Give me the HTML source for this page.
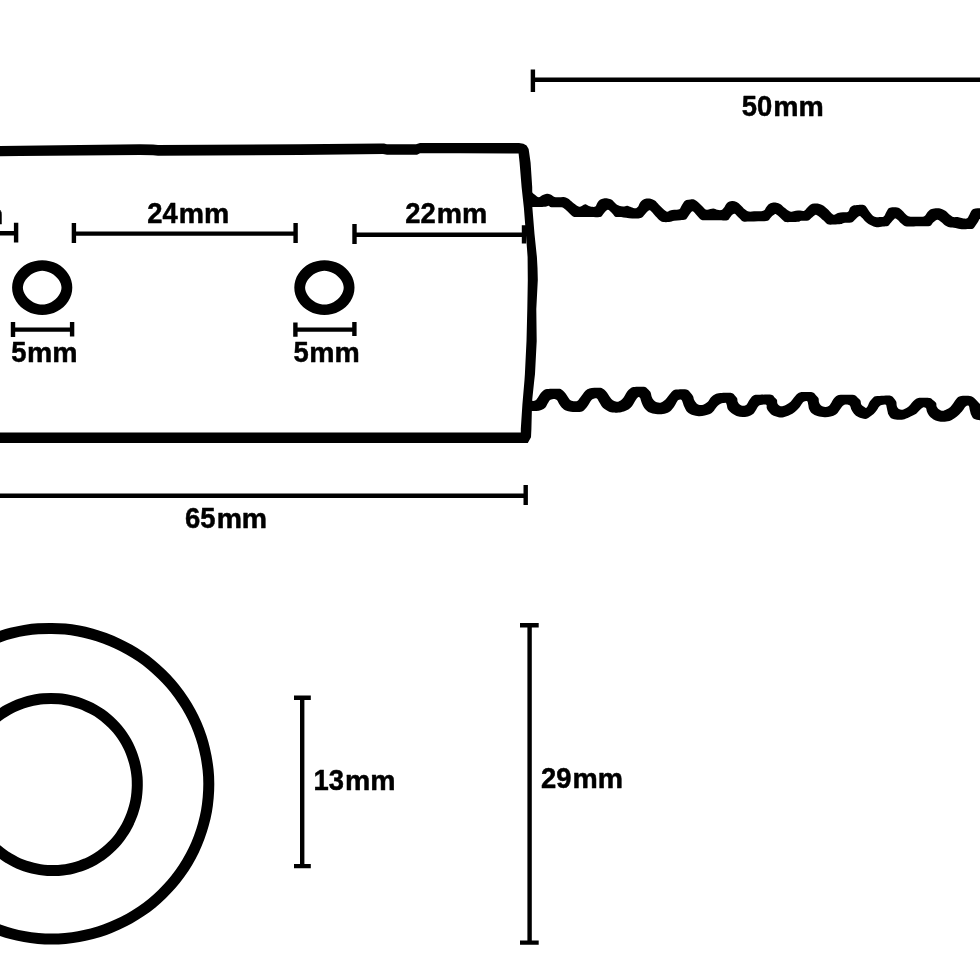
<!DOCTYPE html>
<html><head><meta charset="utf-8"><title>Dimensions</title>
<style>
html,body{margin:0;padding:0;background:#fff;}
body{width:980px;height:980px;overflow:hidden;}
svg{display:block;}
text{font-family:"Liberation Sans",sans-serif;font-weight:bold;font-size:28.4px;fill:#000;stroke:#000;stroke-width:0.5px;stroke-linejoin:round;}
.d{stroke:#000;stroke-width:4.4;fill:none;}
.b{stroke:#000;stroke-width:10.4;fill:none;stroke-linejoin:round;stroke-linecap:round;}
.w{stroke:#000;stroke-width:11.4;fill:none;stroke-linejoin:round;stroke-linecap:round;}
</style></head><body>
<svg width="980" height="980" viewBox="0 0 980 980" style="will-change:transform">
<rect width="980" height="980" fill="#fff"/>
<!-- body outline -->
<path fill="#000" d="M-10,146 L0,145.9 L20,145.7 L140,144.3 L153,144.4 L158,144.9 L300,144.3 L380,143.5 L384,143.6 L387,144.3 L416,144.3 L420,142.9 L460,142.9 L519,143.1 Q529,143.1 529.3,153.5 L530.6,162.7 L532.2,187 L532.4,208 L534.5,234 L536.9,257 L537.5,268 L537.8,280 L536.3,309 L536.7,341 L535,374 L534.3,380 L532.2,400 L531.8,413 L531.4,429 L531,437.3 L527.8,443 L270,443 L-10,443.1 L-10,432.6 L270,432.6 L520.8,432.5 L520.8,429 L522.4,404.5 L524.5,380 L524.9,374 L526.5,341 L527.3,309 L527.8,280 L527.6,257 L525.9,234 L523.9,208 L521.6,187 L519.6,162.7 L518.6,153.6 L460,153.3 L420,153.3 L417,154.7 L387,154.7 L383,154.1 L300,155.1 L158,155.7 L153,155.2 L140,155.1 L20,156.1 L0,156.3 L-10,156.4 Z"/>
<!-- threads -->
<path fill="#000" d="M531.6,191.9 C532.2,192.4 534.0,194.1 535.2,195.0 C536.4,195.9 537.5,197.3 538.8,197.3 C540.1,197.3 541.5,195.6 542.9,195.0 C544.2,194.4 545.6,193.8 546.9,193.7 C548.2,193.6 549.2,193.9 550.5,194.5 C551.8,195.1 553.2,196.5 554.6,197.0 C556.0,197.5 557.2,197.3 558.7,197.3 C560.2,197.3 562.3,196.8 563.8,197.0 C565.3,197.2 566.4,197.7 567.9,198.6 C569.4,199.5 571.3,201.4 573.0,202.7 C574.7,204.0 576.8,205.6 578.1,206.2 C579.4,206.8 579.7,206.8 580.6,206.5 C581.5,206.2 582.9,205.1 583.7,204.7 C584.6,204.3 584.9,204.0 585.7,204.2 C586.5,204.4 587.4,205.3 588.3,205.7 C589.2,206.1 590.1,206.6 591.3,206.7 C592.5,206.8 594.4,207.2 595.4,206.5 C596.4,205.8 596.6,203.8 597.4,202.7 C598.2,201.6 599.0,200.5 600.0,199.8 C601.0,199.1 602.3,198.6 603.6,198.4 C604.9,198.2 606.4,198.2 607.7,198.4 C609.1,198.6 610.4,198.9 611.7,199.8 C613.1,200.7 614.6,202.7 615.8,203.7 C617.0,204.7 617.9,205.2 619.1,205.7 C620.3,206.2 621.9,206.5 623.2,206.5 C624.6,206.5 625.9,205.6 627.2,205.7 C628.6,205.8 629.9,206.8 631.3,207.2 C632.7,207.6 634.3,208.4 635.4,208.3 C636.5,208.2 637.2,207.6 638.0,206.7 C638.8,205.8 639.2,203.8 640.0,202.7 C640.8,201.6 641.5,200.8 642.6,200.1 C643.7,199.4 645.2,198.8 646.6,198.6 C648.0,198.4 649.3,198.5 650.7,198.8 C652.1,199.1 653.4,199.6 654.8,200.6 C656.2,201.6 657.5,203.3 658.9,204.7 C660.3,206.1 661.6,207.6 663.0,208.8 C664.4,210.0 665.8,211.5 667.0,211.8 C668.2,212.1 668.9,210.9 670.1,210.6 C671.3,210.3 672.7,210.0 674.2,209.8 C675.7,209.6 678.1,209.9 679.3,209.3 C680.5,208.7 680.6,207.3 681.3,206.2 C682.0,205.1 682.5,203.7 683.4,202.7 C684.2,201.7 685.2,200.6 686.4,200.1 C687.6,199.6 689.1,199.4 690.5,199.4 C691.9,199.4 693.2,199.2 694.6,199.8 C696.0,200.4 697.3,201.5 698.7,202.7 C700.1,203.8 701.4,205.5 702.8,206.7 C704.1,207.9 705.1,209.5 706.8,209.8 C708.5,210.1 711.5,208.6 713.2,208.6 C714.9,208.6 715.9,209.6 717.2,209.8 C718.6,210.0 720.2,210.3 721.3,210.0 C722.4,209.7 723.0,208.9 723.9,207.8 C724.8,206.8 725.5,204.7 726.4,203.7 C727.3,202.7 728.5,202.0 729.5,201.6 C730.5,201.2 731.4,201.0 732.6,201.1 C733.8,201.2 735.2,201.4 736.6,202.1 C738.0,202.8 739.3,204.0 740.7,205.2 C742.1,206.4 743.4,208.2 744.8,209.3 C746.2,210.4 747.4,211.3 748.9,211.6 C750.4,211.9 752.1,211.4 754.0,211.3 C755.9,211.2 758.4,211.5 760.1,211.3 C761.8,211.1 763.2,211.0 764.2,210.3 C765.2,209.6 765.4,208.2 766.2,207.2 C767.0,206.2 767.8,204.9 768.8,204.2 C769.8,203.4 771.0,202.9 772.3,202.7 C773.6,202.4 775.0,202.4 776.4,202.7 C777.8,202.9 779.1,203.3 780.5,204.2 C781.9,205.0 783.2,206.7 784.6,207.8 C786.0,208.9 787.5,210.1 788.7,210.8 C789.9,211.5 790.5,211.8 791.7,211.8 C792.9,211.8 794.4,211.0 795.8,210.8 C797.2,210.6 798.7,210.6 800.1,210.6 C801.5,210.6 803.0,211.3 804.2,210.8 C805.4,210.3 806.2,208.8 807.2,207.8 C808.2,206.8 809.1,205.4 810.3,204.7 C811.5,204.0 812.9,203.6 814.4,203.5 C815.9,203.4 818.0,203.5 819.5,203.9 C821.0,204.3 822.2,204.8 823.6,205.7 C825.0,206.6 826.4,208.0 827.7,209.3 C829.1,210.6 830.6,212.5 831.7,213.4 C832.8,214.3 833.3,214.8 834.3,214.7 C835.3,214.6 836.4,213.3 837.9,212.9 C839.4,212.5 841.3,212.5 843.0,212.3 C844.7,212.1 846.9,212.6 848.1,211.8 C849.3,211.1 849.2,208.9 850.1,207.8 C851.0,206.8 851.8,206.0 853.2,205.5 C854.6,205.0 856.4,205.0 858.3,204.9 C860.2,204.8 863.0,204.7 864.4,205.2 C865.8,205.7 866.0,206.7 866.9,207.8 C867.8,208.9 868.5,210.5 869.5,211.8 C870.5,213.1 871.6,214.5 872.6,215.4 C873.6,216.3 874.4,216.8 875.6,217.1 C876.8,217.3 878.3,217.0 879.7,216.9 C881.1,216.8 882.8,217.1 883.8,216.4 C884.8,215.7 885.1,214.1 885.8,212.9 C886.5,211.7 887.3,210.1 887.9,209.3 C888.5,208.5 888.3,208.3 889.2,208.0 C890.1,207.7 891.8,207.2 893.3,207.2 C894.8,207.2 896.9,207.2 898.4,207.8 C899.9,208.4 901.0,209.6 902.4,210.8 C903.8,212.0 905.1,213.9 906.5,214.9 C907.9,215.9 908.9,216.4 910.6,216.7 C912.3,217.0 914.5,216.8 916.7,216.7 C918.9,216.6 922.2,217.0 923.9,216.4 C925.6,215.8 925.9,214.0 926.9,212.9 C927.9,211.8 928.8,210.5 930.0,209.8 C931.2,209.1 932.4,208.8 934.1,208.6 C935.8,208.4 938.3,208.2 940.2,208.6 C942.1,209.0 943.8,209.8 945.3,210.8 C946.8,211.8 948.0,213.4 949.4,214.4 C950.8,215.4 952.1,216.7 953.5,217.1 C954.9,217.5 956.2,216.9 957.6,217.1 C959.0,217.2 960.1,217.8 961.6,218.0 C963.1,218.2 965.4,219.0 966.7,218.5 C968.0,218.0 968.4,216.3 969.3,214.9 C970.1,213.5 970.8,211.4 971.8,210.3 C972.8,209.2 974.0,208.9 975.4,208.6 C976.8,208.3 978.2,208.4 980.0,208.3 C981.8,208.2 985.0,208.2 986.0,208.2 L986.0,219.0 C985.0,219.0 981.2,218.7 980.0,219.0 C978.8,219.3 979.2,220.0 978.5,221.0 C977.8,222.0 976.8,223.8 975.9,225.1 C975.0,226.4 974.2,228.0 972.9,228.7 C971.5,229.3 969.7,228.9 967.8,229.0 C965.9,229.1 963.6,229.4 961.6,229.2 C959.6,229.0 957.5,228.3 955.5,228.0 C953.5,227.7 951.1,227.7 949.4,227.3 C947.7,226.9 946.7,226.5 945.3,225.6 C943.9,224.7 942.5,223.0 941.2,222.0 C939.9,221.0 938.6,220.1 937.7,219.8 C936.8,219.6 936.4,220.0 935.6,220.5 C934.8,221.0 934.0,221.7 933.1,222.6 C932.2,223.5 931.7,225.3 930.0,225.9 C928.3,226.5 925.6,226.2 922.9,226.3 C920.2,226.4 916.6,226.4 913.7,226.4 C910.8,226.4 907.5,226.8 905.5,226.3 C903.5,225.8 902.7,224.7 901.4,223.6 C900.1,222.5 898.9,220.8 897.9,220.0 C896.9,219.2 896.1,218.5 895.3,218.5 C894.5,218.5 894.1,219.2 893.3,220.0 C892.4,220.8 891.1,222.6 890.2,223.6 C889.3,224.6 889.1,225.6 887.9,226.1 C886.7,226.6 884.7,226.4 882.8,226.6 C880.9,226.8 878.3,227.4 876.6,227.3 C874.9,227.2 874.0,226.6 872.6,226.1 C871.2,225.6 869.7,224.9 868.5,224.1 C867.3,223.3 866.4,222.5 865.4,221.5 C864.4,220.5 863.2,218.9 862.3,218.0 C861.4,217.1 860.6,216.0 859.8,215.9 C858.9,215.8 858.1,216.6 857.2,217.4 C856.3,218.2 855.2,219.6 854.2,220.5 C853.2,221.4 852.8,222.2 851.1,222.6 C849.4,223.0 845.7,222.7 844.0,222.9 C842.3,223.2 842.6,223.8 840.9,224.1 C839.2,224.4 836.0,224.6 833.8,224.6 C831.6,224.6 829.4,225.0 827.7,224.3 C826.0,223.6 825.0,221.7 823.6,220.5 C822.2,219.3 820.7,217.8 819.5,216.9 C818.3,216.0 817.2,215.2 816.4,214.9 C815.5,214.7 815.2,214.9 814.4,215.4 C813.5,215.9 812.3,217.2 811.3,218.0 C810.3,218.8 810.0,220.0 808.3,220.5 C806.6,221.0 802.7,220.6 801.1,220.8 C799.5,221.0 800.5,221.6 798.9,221.8 C797.3,222.0 793.9,222.0 791.7,222.0 C789.5,222.0 787.1,222.3 785.6,222.0 C784.1,221.7 783.6,220.8 782.6,220.0 C781.6,219.2 780.5,217.8 779.5,216.9 C778.5,216.0 777.2,214.8 776.4,214.4 C775.5,214.0 775.2,214.0 774.4,214.4 C773.5,214.8 772.2,216.0 771.3,216.9 C770.4,217.8 769.6,219.3 768.8,220.0 C767.9,220.7 768.0,220.8 766.2,221.0 C764.4,221.2 760.8,221.2 758.1,221.3 C755.4,221.4 752.4,221.5 749.9,221.5 C747.4,221.5 745.0,222.0 743.3,221.5 C741.6,221.0 740.8,219.5 739.7,218.5 C738.6,217.5 737.5,216.2 736.6,215.4 C735.8,214.6 735.3,213.9 734.6,213.7 C733.9,213.5 733.4,213.8 732.6,214.4 C731.8,215.0 730.9,216.4 730.0,217.4 C729.1,218.4 729.4,219.7 727.4,220.2 C725.4,220.7 721.0,220.2 718.3,220.2 C715.6,220.2 713.0,220.3 711.1,220.3 C709.2,220.3 708.4,220.2 706.8,220.2 C705.2,220.1 703.1,220.5 701.7,220.0 C700.4,219.5 699.7,218.4 698.7,217.4 C697.7,216.4 696.6,214.9 695.6,213.9 C694.6,212.9 693.5,211.5 692.6,211.3 C691.8,211.1 691.4,211.9 690.5,212.9 C689.6,213.9 688.2,216.3 687.4,217.4 C686.5,218.5 686.6,219.0 685.4,219.5 C684.2,220.0 682.2,220.0 680.3,220.2 C678.4,220.4 676.1,220.5 674.2,220.8 C672.3,221.1 671.0,221.8 669.1,222.0 C667.2,222.2 664.5,222.2 663.0,222.0 C661.5,221.8 661.1,221.4 659.9,220.5 C658.7,219.6 657.2,217.8 655.8,216.4 C654.4,215.0 652.8,212.8 651.7,211.8 C650.6,210.8 650.2,210.0 649.2,210.3 C648.2,210.6 646.7,212.3 645.6,213.4 C644.5,214.5 643.6,216.1 642.6,216.9 C641.6,217.7 641.2,217.9 639.5,218.2 C637.8,218.5 634.5,218.6 632.3,218.5 C630.1,218.4 628.1,218.1 626.2,217.8 C624.3,217.5 622.8,217.1 621.1,216.9 C619.4,216.8 617.2,217.4 615.8,216.9 C614.4,216.4 613.8,214.9 612.8,213.9 C611.8,212.9 610.6,211.5 609.7,210.8 C608.9,210.1 608.4,209.7 607.7,209.8 C607.0,209.9 606.5,210.5 605.6,211.3 C604.8,212.2 603.5,214.0 602.6,214.9 C601.7,215.8 601.9,216.5 600.0,216.9 C598.1,217.3 593.8,217.1 591.3,217.1 C588.8,217.1 587.4,217.1 585.2,217.1 C583.0,217.1 580.1,217.0 578.1,216.9 C576.1,216.8 574.7,217.2 573.0,216.4 C571.3,215.6 569.4,213.2 567.9,211.8 C566.4,210.5 565.0,209.1 563.8,208.3 C562.6,207.5 562.8,207.4 560.7,207.2 C558.7,207.0 553.5,207.4 551.5,207.2 C549.5,206.9 549.5,205.8 548.5,205.7 C547.5,205.6 547.1,206.5 545.4,206.7 C543.7,206.9 540.6,206.9 538.3,206.9 C536.0,206.9 532.7,206.9 531.6,206.9 Z"/>
<path fill="#000" d="M531.1,400.8 C531.8,400.8 534.1,401.1 535.2,400.6 C536.3,400.1 536.9,399.0 537.8,397.8 C538.6,396.6 539.4,394.9 540.3,393.7 C541.2,392.5 542.3,391.4 543.4,390.6 C544.5,389.8 545.2,389.4 546.9,389.1 C548.6,388.8 551.5,388.9 553.6,388.8 C555.7,388.8 558.2,388.5 559.7,388.8 C561.2,389.1 561.8,389.8 562.8,390.6 C563.8,391.4 564.9,392.5 565.8,393.7 C566.7,394.9 567.5,396.6 568.4,397.8 C569.2,399.0 569.9,400.0 570.9,400.6 C571.9,401.2 573.4,401.3 574.5,401.3 C575.6,401.3 576.7,401.4 577.6,400.8 C578.5,400.2 579.2,398.9 580.1,397.8 C581.0,396.7 581.8,395.4 582.7,394.2 C583.6,393.0 584.6,391.5 585.7,390.6 C586.8,389.7 587.8,389.1 589.3,388.6 C590.8,388.1 592.5,387.9 594.4,387.8 C596.3,387.7 598.9,387.5 600.5,387.8 C602.1,388.1 603.0,388.8 604.1,389.6 C605.2,390.4 606.2,391.5 607.1,392.7 C608.0,393.9 608.8,395.4 609.7,396.7 C610.7,398.0 611.6,399.4 612.8,400.3 C614.0,401.2 615.8,401.6 616.8,401.8 C617.8,402.0 618.2,401.7 619.1,401.3 C620.0,400.9 621.2,400.2 622.1,399.3 C623.0,398.4 623.9,397.0 624.7,395.7 C625.6,394.4 626.3,392.8 627.2,391.6 C628.1,390.4 629.3,389.4 630.3,388.6 C631.3,387.8 631.9,387.3 633.4,387.0 C634.9,386.7 637.5,386.7 639.5,386.7 C641.5,386.7 643.6,386.4 645.1,387.0 C646.6,387.6 647.8,389.2 648.7,390.1 C649.6,391.1 650.2,391.6 650.7,392.7 C651.2,393.8 651.2,395.4 651.7,396.7 C652.2,398.0 652.9,399.4 653.8,400.3 C654.6,401.2 655.7,401.9 656.8,402.3 C657.9,402.7 659.2,402.9 660.4,402.7 C661.6,402.4 662.9,401.6 664.0,400.8 C665.1,400.0 666.0,399.0 667.0,397.8 C668.0,396.6 669.1,394.9 670.1,393.7 C671.1,392.5 672.0,391.1 673.2,390.4 C674.4,389.7 675.0,389.7 677.2,389.6 C679.4,389.5 684.2,389.1 686.4,389.6 C688.6,390.1 689.4,391.6 690.5,392.7 C691.6,393.8 692.5,395.0 693.1,396.2 C693.7,397.4 693.5,398.6 694.1,399.8 C694.7,401.0 695.7,402.5 696.6,403.4 C697.5,404.2 698.5,404.7 699.7,404.9 C700.9,405.1 702.4,404.9 703.8,404.4 C705.2,403.9 706.7,403.0 707.9,401.8 C709.1,400.6 709.9,398.5 711.1,397.2 C712.3,395.9 713.7,394.9 715.2,394.2 C716.7,393.5 717.6,393.1 720.3,392.9 C723.0,392.7 729.1,392.5 731.5,392.9 C733.9,393.3 733.7,394.3 734.6,395.2 C735.5,396.1 736.6,397.2 737.1,398.3 C737.6,399.4 737.3,400.8 737.7,401.8 C738.1,402.8 738.8,403.8 739.7,404.4 C740.6,405.0 742.1,405.7 743.3,405.7 C744.5,405.7 745.9,405.2 746.8,404.4 C747.7,403.6 748.1,402.0 748.9,400.8 C749.7,399.6 750.5,398.2 751.4,397.2 C752.3,396.2 753.0,395.3 754.5,394.9 C756.0,394.5 757.3,394.7 760.1,394.7 C762.9,394.7 768.9,394.3 771.3,394.7 C773.7,395.1 773.5,396.3 774.4,397.2 C775.3,398.1 776.4,398.8 776.9,399.8 C777.4,400.8 776.9,402.4 777.4,403.4 C777.9,404.4 779.0,405.5 780.0,405.9 C781.0,406.3 782.0,406.1 783.1,405.9 C784.2,405.6 785.3,405.1 786.6,404.4 C787.9,403.7 789.5,402.9 790.7,401.8 C791.9,400.7 792.8,399.1 793.8,397.8 C794.8,396.5 795.8,395.1 796.8,394.2 C797.8,393.3 798.5,392.8 799.9,392.4 C801.3,392.0 803.0,392.1 805.2,392.1 C807.4,392.1 811.1,391.9 812.9,392.4 C814.7,392.9 815.0,394.2 815.9,395.2 C816.8,396.2 818.0,397.1 818.5,398.3 C819.0,399.5 818.6,401.1 819.0,402.3 C819.4,403.5 820.0,404.6 821.0,405.4 C822.0,406.2 823.8,406.8 825.1,406.9 C826.4,407.0 827.7,406.6 828.7,405.9 C829.7,405.2 830.4,404.0 831.2,402.9 C832.0,401.8 832.5,400.4 833.3,399.3 C834.1,398.2 834.9,397.2 835.8,396.5 C836.7,395.8 837.2,395.2 838.9,394.9 C840.6,394.6 843.5,394.7 846.0,394.7 C848.5,394.7 852.3,394.5 854.2,394.9 C856.1,395.3 856.2,396.3 857.2,397.2 C858.2,398.1 859.6,399.1 860.3,400.3 C861.0,401.5 860.6,403.3 861.3,404.4 C862.0,405.5 863.5,406.3 864.4,406.9 C865.2,407.5 865.8,408.1 866.4,407.8 C867.0,407.6 867.4,406.5 868.0,405.4 C868.6,404.3 869.2,402.5 870.0,401.3 C870.8,400.1 871.7,399.2 872.6,398.3 C873.5,397.4 873.7,396.6 875.6,396.2 C877.5,395.8 881.2,395.8 883.8,395.7 C886.4,395.6 889.5,395.4 891.2,395.9 C893.0,396.4 893.4,397.8 894.3,398.8 C895.1,399.8 895.9,400.6 896.3,401.8 C896.7,403.0 896.4,404.7 896.8,405.9 C897.2,407.1 898.0,408.4 898.9,409.0 C899.8,409.6 901.1,410.0 902.4,409.8 C903.7,409.6 905.2,408.8 906.5,408.0 C907.8,407.2 909.0,406.0 910.1,404.9 C911.2,403.8 912.1,402.4 913.2,401.3 C914.3,400.2 915.4,399.2 916.7,398.6 C918.0,398.0 918.6,397.9 920.8,397.8 C923.0,397.7 928.0,397.6 930.0,398.0 C932.0,398.4 932.1,399.5 933.1,400.3 C934.1,401.1 935.5,401.9 936.1,402.9 C936.7,403.9 936.1,405.3 936.6,406.4 C937.1,407.5 938.2,408.8 939.2,409.5 C940.2,410.2 941.6,410.8 942.8,410.8 C944.0,410.8 945.0,410.1 946.3,409.5 C947.6,408.9 949.2,408.0 950.4,406.9 C951.6,405.8 952.5,404.2 953.5,402.9 C954.5,401.5 955.4,399.9 956.5,398.8 C957.6,397.7 957.9,396.7 960.1,396.2 C962.3,395.7 967.5,395.6 969.8,395.9 C972.1,396.2 972.7,397.0 973.9,397.8 C975.1,398.6 975.9,399.8 976.9,400.8 C977.9,401.8 978.5,402.9 980.0,403.9 C981.5,404.9 985.0,406.5 986.0,407.0 L986.0,420.3 C985.0,420.3 982.0,420.5 980.0,420.2 C978.0,419.9 975.4,419.5 973.9,418.7 C972.4,417.9 972.0,416.6 971.3,415.1 C970.6,413.7 970.2,411.5 969.8,410.0 C969.4,408.5 969.5,406.5 968.8,405.9 C968.1,405.3 966.7,405.6 965.7,406.4 C964.7,407.2 963.9,409.1 962.7,410.5 C961.5,411.9 960.0,413.8 958.6,415.1 C957.2,416.4 956.0,417.2 954.5,418.2 C953.0,419.2 951.3,420.4 949.4,421.0 C947.5,421.6 945.2,421.7 943.3,421.7 C941.4,421.7 939.9,421.6 938.2,421.2 C936.5,420.8 934.6,420.1 933.1,419.2 C931.6,418.3 930.0,416.9 929.0,415.6 C928.0,414.3 927.4,412.8 926.9,411.5 C926.4,410.2 926.6,408.7 925.9,408.0 C925.2,407.3 923.9,407.1 922.9,407.4 C921.9,407.7 921.0,408.9 919.8,410.0 C918.6,411.1 917.2,413.0 915.7,414.1 C914.2,415.2 912.5,415.8 910.6,416.6 C908.7,417.5 906.7,418.7 904.5,419.2 C902.3,419.7 899.5,419.9 897.3,419.7 C895.1,419.5 892.7,419.1 891.2,418.2 C889.7,417.3 888.8,415.0 888.2,414.1 C887.7,413.2 888.1,414.1 887.9,413.1 C887.7,412.1 887.1,409.4 886.8,408.0 C886.4,406.6 886.6,405.2 885.8,404.7 C884.9,404.2 882.8,404.6 881.7,404.9 C880.6,405.2 880.1,405.5 879.2,406.4 C878.4,407.3 877.5,409.2 876.6,410.5 C875.7,411.8 874.8,413.0 873.6,414.1 C872.4,415.2 870.9,416.3 869.5,417.1 C868.1,417.9 867.3,419.0 865.4,419.0 C863.5,419.0 860.2,417.9 858.3,417.1 C856.4,416.3 855.3,415.3 854.2,414.1 C853.1,412.9 852.3,411.4 851.6,410.0 C850.9,408.6 850.7,406.8 850.1,405.9 C849.5,405.0 849.1,404.9 848.1,404.7 C847.1,404.5 845.1,404.4 844.0,404.9 C842.9,405.3 842.2,406.4 841.4,407.4 C840.5,408.4 839.8,409.8 838.9,411.0 C838.0,412.2 837.2,413.7 835.8,414.6 C834.4,415.5 832.6,416.2 830.7,416.6 C828.8,417.1 826.8,417.4 824.6,417.3 C822.4,417.2 819.5,416.7 817.4,416.1 C815.3,415.5 813.6,414.7 812.3,413.6 C810.9,412.5 810.0,410.9 809.3,409.5 C808.6,408.1 808.6,406.3 808.3,404.9 C807.9,403.5 808.0,401.8 807.2,401.3 C806.4,400.8 804.7,401.2 803.7,401.8 C802.7,402.4 801.9,403.9 801.1,404.9 C800.3,405.9 800.0,406.8 798.9,408.0 C797.8,409.2 796.3,410.8 794.8,412.0 C793.3,413.2 791.6,414.2 789.7,415.1 C787.8,416.0 785.5,416.9 783.6,417.3 C781.7,417.7 780.4,417.7 778.5,417.3 C776.6,416.9 774.0,416.2 772.3,415.1 C770.6,414.1 769.2,412.2 768.3,411.0 C767.4,409.8 767.1,409.1 766.7,408.0 C766.4,406.9 767.2,405.2 766.2,404.7 C765.2,404.2 762.0,404.6 760.6,404.9 C759.2,405.2 758.9,405.5 758.1,406.4 C757.3,407.2 756.9,408.7 756.0,410.0 C755.1,411.3 754.4,413.0 753.0,414.1 C751.6,415.2 749.6,416.1 747.9,416.6 C746.2,417.1 744.7,417.0 742.8,416.9 C740.9,416.8 738.5,416.5 736.6,415.9 C734.7,415.3 732.9,414.2 731.5,413.1 C730.1,412.0 728.8,410.8 728.0,409.5 C727.2,408.2 727.2,406.5 726.9,405.4 C726.5,404.3 726.6,403.3 725.9,402.9 C725.2,402.5 724.0,402.9 722.9,403.1 C721.8,403.4 720.4,403.7 719.3,404.4 C718.2,405.1 717.2,406.2 716.2,407.4 C715.2,408.6 714.2,410.4 713.2,411.5 C712.2,412.6 711.3,413.4 709.9,414.1 C708.5,414.8 706.7,415.2 704.8,415.6 C702.9,416.0 700.7,416.4 698.7,416.3 C696.7,416.2 694.5,415.8 692.6,415.1 C690.7,414.4 688.8,413.4 687.4,412.0 C686.0,410.6 685.1,408.4 684.4,406.9 C683.6,405.4 683.4,404.1 682.9,402.9 C682.4,401.7 682.1,400.3 681.3,399.8 C680.5,399.3 679.1,399.5 678.3,400.0 C677.4,400.5 677.1,401.6 676.2,402.9 C675.4,404.2 674.4,406.5 673.2,408.0 C672.0,409.5 670.8,411.0 669.1,412.0 C667.4,413.0 665.2,413.8 663.0,414.1 C660.8,414.5 658.0,414.4 655.8,414.1 C653.6,413.9 651.5,413.5 649.7,412.6 C647.9,411.8 646.3,410.3 645.1,409.0 C643.9,407.7 643.3,406.3 642.6,404.9 C641.9,403.5 641.4,402.0 641.0,400.8 C640.6,399.6 640.5,398.4 640.0,397.8 C639.5,397.2 638.7,396.9 638.0,397.2 C637.3,397.5 636.7,398.7 635.9,399.8 C635.1,400.9 634.3,402.5 633.4,403.9 C632.5,405.3 631.5,406.9 630.3,408.0 C629.1,409.1 627.7,409.8 626.2,410.5 C624.7,411.2 623.2,411.8 621.1,412.2 C619.0,412.6 615.9,412.7 613.8,412.6 C611.7,412.5 610.2,412.1 608.7,411.5 C607.2,410.9 605.8,409.9 604.6,409.0 C603.4,408.1 602.4,407.1 601.5,405.9 C600.6,404.7 599.8,403.0 599.0,401.8 C598.2,400.6 597.7,399.1 596.9,398.6 C596.1,398.1 595.3,398.3 594.4,398.6 C593.5,398.9 592.3,399.2 591.3,400.3 C590.3,401.4 589.3,403.4 588.3,404.9 C587.3,406.3 586.2,407.9 585.2,409.0 C584.2,410.1 583.5,411.0 582.1,411.5 C580.7,412.0 578.9,411.9 577.0,412.0 C575.1,412.1 572.8,412.1 570.9,411.8 C569.0,411.6 567.3,411.2 565.8,410.5 C564.3,409.8 562.8,408.5 561.7,407.4 C560.6,406.3 560.0,405.1 559.2,403.9 C558.4,402.7 557.9,401.1 557.1,400.3 C556.3,399.5 555.7,399.1 554.6,399.0 C553.5,398.9 551.6,399.2 550.5,399.8 C549.4,400.4 548.9,401.6 548.0,402.9 C547.1,404.2 546.5,406.2 545.4,407.4 C544.3,408.6 542.8,409.4 541.3,410.0 C539.8,410.6 537.9,410.8 536.2,411.0 C534.5,411.2 532.0,411.0 531.1,411.0 Z"/>
<!-- holes -->
<path fill="#000" fill-rule="evenodd" d="M72.30,287.60 L72.04,291.18 L71.27,294.69 L70.01,298.09 L68.27,301.30 L66.08,304.28 L63.48,306.97 L60.52,309.34 L57.25,311.33 L53.72,312.91 L49.99,314.07 L46.13,314.77 L42.20,315.00 L38.27,314.77 L34.41,314.07 L30.68,312.91 L27.15,311.33 L23.88,309.34 L20.92,306.97 L18.32,304.28 L16.13,301.30 L14.39,298.09 L13.13,294.69 L12.36,291.18 L12.10,287.60 L12.36,284.02 L13.13,280.51 L14.39,277.11 L16.13,273.90 L18.32,270.92 L20.92,268.23 L23.88,265.86 L27.15,263.87 L30.68,262.29 L34.41,261.13 L38.27,260.43 L42.20,260.20 L46.13,260.43 L49.99,261.13 L53.72,262.29 L57.25,263.87 L60.52,265.86 L63.48,268.23 L66.08,270.92 L68.27,273.90 L70.01,277.11 L71.27,280.51 L72.04,284.02 Z M61.50,287.70 L61.32,289.50 L60.78,291.53 L59.89,293.58 L58.68,295.59 L57.17,297.50 L55.39,299.25 L53.39,300.80 L51.21,302.13 L48.92,303.19 L46.57,303.97 L44.26,304.44 L42.20,304.60 L40.14,304.44 L37.83,303.97 L35.48,303.19 L33.19,302.13 L31.01,300.80 L29.01,299.25 L27.23,297.50 L25.72,295.59 L24.51,293.58 L23.62,291.53 L23.08,289.50 L22.90,287.70 L23.08,285.90 L23.62,283.87 L24.51,281.82 L25.72,279.81 L27.23,277.90 L29.01,276.15 L31.01,274.60 L33.19,273.27 L35.48,272.21 L37.83,271.43 L40.14,270.96 L42.20,270.80 L44.26,270.96 L46.57,271.43 L48.92,272.21 L51.21,273.27 L53.39,274.60 L55.39,276.15 L57.17,277.90 L58.68,279.81 L59.89,281.82 L60.78,283.87 L61.32,285.90 Z"/>
<path fill="#000" fill-rule="evenodd" d="M354.50,287.60 L354.24,291.18 L353.47,294.69 L352.21,298.09 L350.47,301.30 L348.28,304.28 L345.68,306.97 L342.72,309.34 L339.45,311.33 L335.92,312.91 L332.19,314.07 L328.33,314.77 L324.40,315.00 L320.47,314.77 L316.61,314.07 L312.88,312.91 L309.35,311.33 L306.08,309.34 L303.12,306.97 L300.52,304.28 L298.33,301.30 L296.59,298.09 L295.33,294.69 L294.56,291.18 L294.30,287.60 L294.56,284.02 L295.33,280.51 L296.59,277.11 L298.33,273.90 L300.52,270.92 L303.12,268.23 L306.08,265.86 L309.35,263.87 L312.88,262.29 L316.61,261.13 L320.47,260.43 L324.40,260.20 L328.33,260.43 L332.19,261.13 L335.92,262.29 L339.45,263.87 L342.72,265.86 L345.68,268.23 L348.28,270.92 L350.47,273.90 L352.21,277.11 L353.47,280.51 L354.24,284.02 Z M343.70,287.70 L343.52,289.50 L342.98,291.53 L342.09,293.58 L340.88,295.59 L339.37,297.50 L337.59,299.25 L335.59,300.80 L333.41,302.13 L331.12,303.19 L328.77,303.97 L326.46,304.44 L324.40,304.60 L322.34,304.44 L320.03,303.97 L317.68,303.19 L315.39,302.13 L313.21,300.80 L311.21,299.25 L309.43,297.50 L307.92,295.59 L306.71,293.58 L305.82,291.53 L305.28,289.50 L305.10,287.70 L305.28,285.90 L305.82,283.87 L306.71,281.82 L307.92,279.81 L309.43,277.90 L311.21,276.15 L313.21,274.60 L315.39,273.27 L317.68,272.21 L320.03,271.43 L322.34,270.96 L324.40,270.80 L326.46,270.96 L328.77,271.43 L331.12,272.21 L333.41,273.27 L335.59,274.60 L337.59,276.15 L339.37,277.90 L340.88,279.81 L342.09,281.82 L342.98,283.87 L343.52,285.90 Z"/>
<!-- dimension lines -->
<path class="d" d="M-5,233.3 H16 M16.1,222.8 V242.4"/>
<path class="d" d="M73.9,233.6 H295.6 M73.9,223 V243 M295.6,223 V243"/>
<path class="d" d="M354.5,234.7 H524 M354.5,224 V244 M524,225.3 V243.6"/>
<path class="d" d="M13,329.6 H72.1 M13,322 V337 M72.1,322 V336.5"/>
<path class="d" d="M295.4,329.6 H354.4 M295.4,322.4 V336.7 M354.4,322 V336"/>
<path class="d" d="M532.9,79.8 H990 M532.9,69.4 V91.9"/>
<path class="d" d="M-5,495.7 H525.7 M525.7,485 V505"/>
<path class="d" d="M302.2,697.8 V866.1 M294,697.8 H310.8 M294,866.1 H310.8"/>
<path class="d" d="M529.6,625.3 V942.6 M520,625.3 H538.7 M520,942.6 H538.7"/>
<!-- end view -->
<path d="M208.8,783.7 C208.8,788.3 208.6,792.9 208.2,797.4 C207.8,801.9 207.3,806.5 206.5,811.0 C205.7,815.5 204.6,820.0 203.4,824.4 C202.2,828.8 200.8,833.1 199.2,837.4 C197.6,841.7 195.9,845.9 193.9,850.0 C191.9,854.1 189.7,858.2 187.4,862.1 C185.1,866.0 182.6,869.8 179.9,873.5 C177.2,877.2 174.5,880.8 171.5,884.2 C168.5,887.6 165.3,890.9 162.1,894.1 C158.8,897.3 155.5,900.3 152.0,903.2 C148.5,906.1 144.8,908.8 141.1,911.3 C137.3,913.8 133.4,916.3 129.5,918.5 C125.5,920.7 121.5,922.7 117.4,924.6 C113.3,926.5 109.2,928.3 104.9,929.8 C100.7,931.3 96.3,932.6 91.9,933.8 C87.5,934.9 83.2,935.9 78.7,936.7 C74.2,937.5 69.7,938.0 65.2,938.4 C60.7,938.8 56.2,939.0 51.7,939.0 C47.2,939.0 42.7,938.8 38.2,938.4 C33.7,938.0 29.1,937.5 24.7,936.7 C20.2,935.9 15.8,935.0 11.5,933.8 C7.2,932.6 2.9,931.2 -1.4,929.7 C-5.7,928.2 -9.9,926.4 -14.0,924.5 C-18.1,922.6 -22.1,920.5 -26.0,918.3 C-29.9,916.0 -33.7,913.6 -37.4,911.0 C-41.1,908.4 -44.6,905.6 -48.1,902.7 C-51.6,899.8 -54.9,896.7 -58.1,893.5 C-61.3,890.3 -64.3,887.0 -67.2,883.5 C-70.1,880.0 -72.8,876.4 -75.4,872.7 C-78.0,869.0 -80.4,865.1 -82.6,861.2 C-84.8,857.3 -86.9,853.3 -88.8,849.2 C-90.7,845.1 -92.4,840.9 -93.9,836.7 C-95.4,832.5 -96.8,828.1 -98.0,823.8 C-99.2,819.4 -100.1,815.0 -100.9,810.6 C-101.7,806.2 -102.3,801.7 -102.7,797.2 C-103.1,792.7 -103.4,788.2 -103.4,783.7 C-103.4,779.2 -103.3,774.7 -102.9,770.2 C-102.5,765.7 -102.0,761.2 -101.2,756.7 C-100.5,752.2 -99.5,747.9 -98.4,743.5 C-97.3,739.1 -95.9,734.8 -94.4,730.5 C-92.9,726.2 -91.3,722.0 -89.4,717.9 C-87.5,713.8 -85.4,709.7 -83.2,705.8 C-81.0,701.9 -78.6,698.0 -76.0,694.3 C-73.4,690.6 -70.7,686.9 -67.8,683.4 C-64.9,679.9 -61.9,676.5 -58.7,673.3 C-55.5,670.1 -52.2,667.0 -48.7,664.1 C-45.2,661.2 -41.6,658.4 -37.9,655.8 C-34.2,653.2 -30.3,650.8 -26.4,648.5 C-22.5,646.2 -18.4,644.2 -14.3,642.3 C-10.2,640.4 -5.9,638.7 -1.6,637.2 C2.7,635.7 7.0,634.3 11.4,633.2 C15.8,632.1 20.2,631.1 24.7,630.4 C29.1,629.7 33.6,629.1 38.1,628.8 C42.6,628.5 47.2,628.3 51.7,628.4 C56.2,628.5 60.7,628.7 65.2,629.1 C69.7,629.5 74.2,630.2 78.6,631.0 C83.0,631.8 87.4,632.9 91.8,634.1 C96.2,635.3 100.5,636.7 104.7,638.2 C108.9,639.8 113.0,641.5 117.1,643.4 C121.2,645.3 125.2,647.4 129.1,649.6 C133.0,651.8 136.9,654.2 140.6,656.8 C144.3,659.3 147.9,662.0 151.4,664.9 C154.9,667.8 158.2,670.9 161.4,674.0 C164.6,677.1 167.8,680.4 170.8,683.8 C173.8,687.2 176.5,690.7 179.2,694.4 C181.8,698.1 184.4,701.9 186.7,705.8 C189.0,709.7 191.2,713.6 193.2,717.7 C195.2,721.8 197.1,726.0 198.7,730.2 C200.3,734.5 201.8,738.8 203.0,743.2 C204.2,747.6 205.2,752.0 206.1,756.5 C206.9,761.0 207.6,765.5 208.1,770.0 C208.6,774.5 208.8,779.1 208.8,783.7 Z" fill="none" stroke="#000" stroke-width="11" stroke-linejoin="round"/>
<path d="M137.3,785.3 C137.3,787.8 137.1,790.3 136.9,792.8 C136.7,795.3 136.4,797.8 135.9,800.3 C135.4,802.8 134.9,805.2 134.2,807.6 C133.5,810.0 132.8,812.4 131.9,814.8 C131.0,817.1 130.1,819.4 129.0,821.7 C128.0,824.0 126.8,826.2 125.6,828.4 C124.3,830.6 122.9,832.7 121.5,834.7 C120.1,836.8 118.6,838.8 117.0,840.7 C115.4,842.6 113.7,844.4 111.9,846.2 C110.1,848.0 108.2,849.7 106.3,851.3 C104.4,852.9 102.5,854.4 100.4,855.8 C98.4,857.2 96.2,858.6 94.0,859.8 C91.8,861.0 89.6,862.2 87.3,863.2 C85.0,864.2 82.8,865.2 80.4,866.0 C78.1,866.8 75.6,867.5 73.2,868.1 C70.8,868.7 68.4,869.2 65.9,869.6 C63.4,870.0 60.9,870.2 58.4,870.4 C55.9,870.6 53.5,870.6 51.0,870.6 C48.5,870.6 46.1,870.4 43.6,870.1 C41.1,869.8 38.7,869.4 36.3,868.9 C33.9,868.4 31.5,867.8 29.1,867.1 C26.7,866.4 24.4,865.7 22.1,864.8 C19.8,863.9 17.5,862.9 15.3,861.8 C13.1,860.7 10.9,859.5 8.8,858.3 C6.7,857.0 4.7,855.7 2.7,854.3 C0.7,852.9 -1.2,851.4 -3.1,849.8 C-5.0,848.2 -6.8,846.6 -8.6,844.9 C-10.3,843.2 -12.0,841.4 -13.6,839.5 C-15.2,837.6 -16.8,835.7 -18.2,833.7 C-19.6,831.7 -21.0,829.7 -22.3,827.6 C-23.6,825.5 -24.8,823.3 -25.9,821.1 C-27.0,818.9 -28.0,816.7 -28.9,814.4 C-29.8,812.1 -30.7,809.8 -31.4,807.4 C-32.1,805.0 -32.8,802.6 -33.3,800.2 C-33.8,797.8 -34.2,795.3 -34.5,792.8 C-34.8,790.3 -35.0,787.8 -35.1,785.3 C-35.2,782.8 -35.1,780.3 -35.0,777.8 C-34.9,775.3 -34.7,772.8 -34.3,770.3 C-33.9,767.8 -33.4,765.2 -32.8,762.8 C-32.2,760.3 -31.5,758.0 -30.7,755.6 C-29.9,753.2 -28.9,750.8 -27.9,748.5 C-26.9,746.2 -25.8,743.9 -24.5,741.7 C-23.2,739.5 -21.8,737.4 -20.4,735.3 C-18.9,733.2 -17.4,731.2 -15.8,729.2 C-14.2,727.2 -12.5,725.4 -10.7,723.6 C-8.9,721.8 -7.0,720.1 -5.0,718.5 C-3.0,716.9 -1.1,715.3 1.0,713.9 C3.1,712.5 5.3,711.1 7.5,709.9 C9.7,708.7 11.9,707.5 14.2,706.5 C16.5,705.5 18.9,704.5 21.3,703.6 C23.7,702.8 26.1,702.0 28.5,701.4 C30.9,700.8 33.4,700.2 35.9,699.8 C38.4,699.4 40.9,699.0 43.4,698.8 C45.9,698.6 48.5,698.5 51.0,698.5 C53.5,698.5 56.1,698.6 58.6,698.8 C61.1,699.0 63.6,699.4 66.1,699.8 C68.6,700.2 71.1,700.8 73.5,701.4 C75.9,702.0 78.3,702.8 80.7,703.7 C83.1,704.6 85.4,705.6 87.7,706.6 C90.0,707.6 92.3,708.8 94.5,710.0 C96.7,711.2 98.8,712.6 100.9,714.1 C103.0,715.6 105.0,717.1 106.9,718.7 C108.8,720.3 110.7,722.0 112.5,723.8 C114.3,725.6 116.0,727.4 117.6,729.4 C119.2,731.4 120.8,733.4 122.2,735.5 C123.6,737.6 125.0,739.7 126.2,741.9 C127.4,744.1 128.6,746.3 129.6,748.6 C130.6,750.9 131.6,753.3 132.4,755.7 C133.2,758.1 134.0,760.5 134.6,762.9 C135.2,765.3 135.8,767.8 136.2,770.3 C136.6,772.8 136.9,775.3 137.1,777.8 C137.3,780.3 137.3,782.8 137.3,785.3 Z" fill="none" stroke="#000" stroke-width="11" stroke-linejoin="round"/>
<!-- labels -->
<text x="3.3" y="223.6" text-anchor="end">9mm</text>
<text x="147.25" y="222.6"><tspan font-size="30.10" textLength="30.48" lengthAdjust="spacingAndGlyphs">24</tspan><tspan x="178.84">mm</tspan></text>
<text x="405.25" y="222.6"><tspan font-size="30.10" textLength="30.48" lengthAdjust="spacingAndGlyphs">22</tspan><tspan x="436.84">mm</tspan></text>
<text x="11.15" y="362.1"><tspan font-size="30.10" textLength="15.24" lengthAdjust="spacingAndGlyphs">5</tspan><tspan x="26.95">mm</tspan></text>
<text x="293.55" y="362.1"><tspan font-size="30.10" textLength="15.24" lengthAdjust="spacingAndGlyphs">5</tspan><tspan x="309.35">mm</tspan></text>
<text x="741.75" y="115.6"><tspan font-size="30.10" textLength="30.48" lengthAdjust="spacingAndGlyphs">50</tspan><tspan x="773.34">mm</tspan></text>
<text x="185.05" y="528.2"><tspan font-size="30.10" textLength="30.48" lengthAdjust="spacingAndGlyphs">65</tspan><tspan x="216.64">mm</tspan></text>
<text x="313.45" y="790"><tspan font-size="30.10" textLength="30.48" lengthAdjust="spacingAndGlyphs">13</tspan><tspan x="345.04">mm</tspan></text>
<text x="540.95" y="788.2"><tspan font-size="30.10" textLength="30.48" lengthAdjust="spacingAndGlyphs">29</tspan><tspan x="572.54">mm</tspan></text>
</svg>
</body></html>
